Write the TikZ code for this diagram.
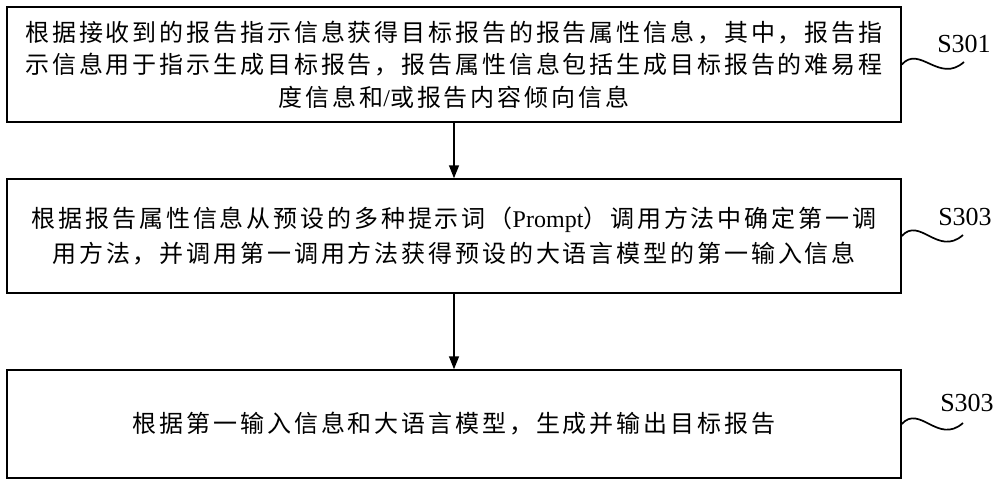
\documentclass[tikz,border=0pt]{standalone}
\usepackage{fontspec}
\setmainfont{Liberation Serif}
\newfontfamily\cjk{Noto Sans CJK SC}[LetterSpace=12]
\usetikzlibrary{arrows.meta}
\newcommand\zh[1]{{\cjk #1}}
\tikzset{
  stepbox/.style={draw=black, line width=1.5pt, minimum width=894pt, inner sep=0pt, align=center, font=\fontsize{24}{32.5}\selectfont},
  flow/.style={line width=1.5pt, -{Triangle[length=13pt,width=10pt]}},
  wave/.style={line width=1.7pt},
  steplabel/.style={font=\fontsize{26}{30}\selectfont, inner sep=0pt}
}
\begin{document}
\begin{tikzpicture}[x=1pt,y=-1pt]
\useasboundingbox (0,0) rectangle (1000,487);
\node[stepbox, minimum height=115pt] (b1) at (454,64.5)
  {\zh{根据接收到的报告指示信息获得目标报告的报告属性信息，其中，报告指}\\
   \zh{示信息用于指示生成目标报告，报告属性信息包括生成目标报告的难易程}\\
   \zh{度信息和}/\zh{或报告内容倾向信息}};
\node[stepbox, minimum height=114pt, font=\fontsize{24}{35}\selectfont] (b2) at (454,236)
  {\zh{根据报告属性信息从预设的多种提示词（}Prompt\zh{）调用方法中确定第一调}\\
   \zh{用方法，并调用第一调用方法获得预设的大语言模型的第一输入信息}};
\node[stepbox, minimum height=108pt] (b3) at (454,424)
  {\zh{根据第一输入信息和大语言模型，生成并输出目标报告}};
\draw[flow] (b1.south) -- (b2.north);
\draw[flow] (b2.south) -- (b3.north);
\node[steplabel] (l1) at (964,43.5) {S301};
\node[steplabel] (l2) at (965,217) {S303};
\node[steplabel] (l3) at (967,403) {S303};
\coordinate (w1) at (964,62);
\coordinate (w2) at (963,235);
\coordinate (w3) at (963,423);
\draw[wave] (b1.east) .. controls +(18,-20) and +(-25,22) .. (w1);
\draw[wave] (b2.east) .. controls +(18,-20) and +(-25,22) .. (w2);
\draw[wave] (b3.east) .. controls +(18,-20) and +(-25,22) .. (w3);
\end{tikzpicture}
\end{document}
